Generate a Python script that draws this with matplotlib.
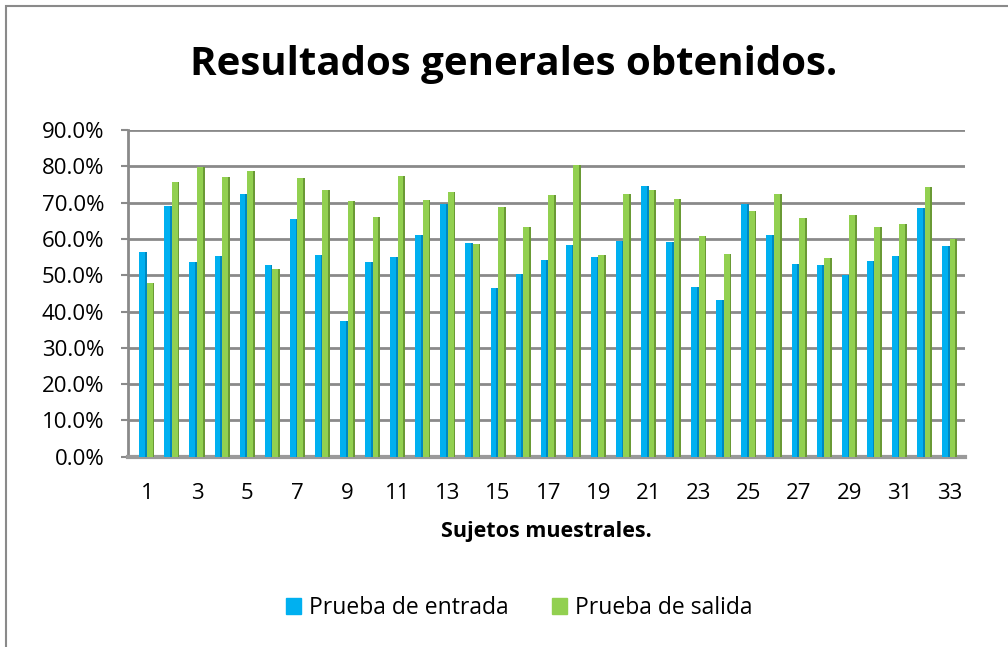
import matplotlib.pyplot as plt
import numpy as np
from matplotlib.patches import Rectangle
from matplotlib.ticker import FuncFormatter

sujetos = list(range(1, 34))
entrada = [56.5, 69.1, 53.7, 55.4, 72.5, 52.7, 65.4, 55.7, 37.4, 53.7, 55.1,
           61.0, 69.7, 59.0, 46.4, 50.4, 54.2, 58.4, 55.1, 59.4, 74.5, 59.2,
           46.7, 43.1, 69.5, 61.0, 53.2, 52.8, 50.1, 53.9, 55.2, 68.4, 58.1]
salida = [48.0, 75.8, 79.9, 77.1, 78.7, 51.7, 76.9, 73.5, 70.4, 66.0, 77.3,
          70.6, 72.8, 58.7, 68.7, 63.4, 72.1, 80.5, 55.7, 72.5, 73.5, 71.1,
          60.8, 55.8, 67.8, 72.5, 65.7, 54.7, 66.5, 63.4, 64.2, 74.2, 59.9]
etiquetas_x = [str(s) for s in sujetos if s % 2 == 1]

plt.rcParams['font.family'] = ['Open Sans', 'DejaVu Sans']

fig = plt.figure(figsize=(10.08, 6.47), dpi=100)
ax = fig.add_axes([0.127, 0.294, 0.83, 0.505])

x = np.array(sujetos, dtype=float)
ent = np.array(entrada) / 100
sal = np.array(salida) / 100
w = 0.3
side = 0.07

# barras con un borde lateral oscuro para imitar el 3D
ax.bar(x - w / 2, ent, w, color='#00B0F0', zorder=3)
ax.bar(x - side / 2, ent, side, color='#0088c0', zorder=3)
ax.bar(x + w / 2, sal, w, color='#92D050', zorder=3)
ax.bar(x + w - side / 2, sal, side, color='#6a9a35', zorder=3)

ax.set_xlim(0.25, 33.6)
ax.set_ylim(0, 0.9)
ax.set_yticks(np.arange(0, 0.91, 0.1))
ax.yaxis.set_major_formatter(FuncFormatter(lambda v, p: f"{v * 100:.1f}%"))
ax.set_xticks([s for s in sujetos if s % 2 == 1])
ax.set_xticklabels(etiquetas_x)
ax.tick_params(axis='y', labelsize=16, length=5, width=1.5, color='#8a8a8a', pad=12)
ax.tick_params(axis='x', labelsize=16, length=0, pad=19)

ax.grid(axis='y', color='#8a8a8a', linewidth=2, zorder=1)
for s in ['top', 'right']:
    ax.spines[s].set_visible(False)
ax.spines['left'].set_color('#8a8a8a')
ax.spines['left'].set_linewidth(2)
ax.spines['bottom'].set_color('#9a9a9a')
ax.spines['bottom'].set_linewidth(3)

ax.set_xlabel("Sujetos muestrales.", fontsize=15.5, fontweight='bold', labelpad=12)
fig.suptitle("Resultados generales obtenidos.", fontsize=29, fontweight='bold',
             x=0.51, y=0.93)

h1 = Rectangle((0, 0), 1, 1, color='#00B0F0')
h2 = Rectangle((0, 0), 1, 1, color='#92D050')
fig.legend([h1, h2], ["Prueba de entrada", "Prueba de salida"], loc='center',
           bbox_to_anchor=(0.515, 0.06), ncol=2, frameon=False, fontsize=16.5,
           handlelength=0.65, handleheight=0.65, handletextpad=0.35, columnspacing=1.9)

fig.patches.append(Rectangle((6 / 1008, -0.05), 1.1, 1 - 6 / 647 + 0.05,
                             transform=fig.transFigure, fill=False,
                             edgecolor='#8a8a8a', linewidth=1.5))

fig.savefig("out.png", dpi=100)
